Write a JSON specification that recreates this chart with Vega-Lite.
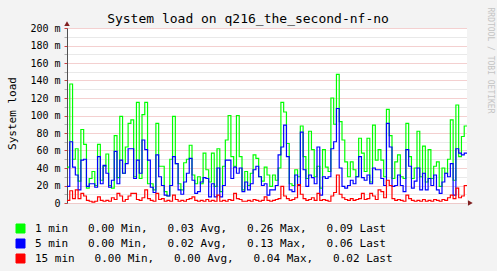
{
  "$schema": "https://vega.github.io/schema/vega-lite/v6.json",
  "width": 400,
  "height": 175,
  "autosize": {"type": "none"},
  "padding": {"left": 67, "top": 28, "right": 30, "bottom": 68},
  "background": "#f3f3f3",
  "view": {"fill": "#ffffff", "stroke": null},
  "config": {"font": "DejaVu Sans Mono"},
  "title": {"text": "System load on q216_the_second-nf-no", "font": "DejaVu Sans Mono", "fontSize": 13, "fontWeight": "normal", "color": "#000000", "anchor": "middle", "dx": -19, "offset": -19},
  "layer": [
    {
      "data": {"values": [
        {"t":690,"1 min":0.041,"5 min":0.019,"15 min":0.003},
        {"t":700,"1 min":0.136,"5 min":0.070,"15 min":0.014},
        {"t":710,"1 min":0.050,"5 min":0.041,"15 min":0.005},
        {"t":720,"1 min":0.062,"5 min":0.032,"15 min":0.015},
        {"t":730,"1 min":0.025,"5 min":0.015,"15 min":0.005},
        {"t":740,"1 min":0.084,"5 min":0.049,"15 min":0.011},
        {"t":750,"1 min":0.067,"5 min":0.050,"15 min":0.008},
        {"t":760,"1 min":0.017,"5 min":0.019,"15 min":0.003},
        {"t":770,"1 min":0.028,"5 min":0.022,"15 min":0.002},
        {"t":780,"1 min":0.036,"5 min":0.022,"15 min":0.001},
        {"t":790,"1 min":0.020,"5 min":0.018,"15 min":0.002},
        {"t":800,"1 min":0.067,"5 min":0.053,"15 min":0.007},
        {"t":810,"1 min":0.026,"5 min":0.022,"15 min":0.003},
        {"t":820,"1 min":0.042,"5 min":0.043,"15 min":0.002},
        {"t":830,"1 min":0.056,"5 min":0.034,"15 min":0.003},
        {"t":840,"1 min":0.020,"5 min":0.018,"15 min":0.002},
        {"t":850,"1 min":0.017,"5 min":0.026,"15 min":0.006},
        {"t":860,"1 min":0.077,"5 min":0.059,"15 min":0.004},
        {"t":870,"1 min":0.029,"5 min":0.022,"15 min":0.011},
        {"t":880,"1 min":0.099,"5 min":0.049,"15 min":0.008},
        {"t":890,"1 min":0.034,"5 min":0.034,"15 min":0.002},
        {"t":900,"1 min":0.064,"5 min":0.045,"15 min":0.004},
        {"t":910,"1 min":0.091,"5 min":0.062,"15 min":0.008},
        {"t":920,"1 min":0.095,"5 min":0.062,"15 min":0.011},
        {"t":930,"1 min":0.030,"5 min":0.028,"15 min":0.011},
        {"t":940,"1 min":0.115,"5 min":0.049,"15 min":0.004},
        {"t":950,"1 min":0.028,"5 min":0.034,"15 min":0.003},
        {"t":960,"1 min":0.101,"5 min":0.072,"15 min":0.006},
        {"t":970,"1 min":0.115,"5 min":0.061,"15 min":0.015},
        {"t":980,"1 min":0.022,"5 min":0.049,"15 min":0.005},
        {"t":990,"1 min":0.022,"5 min":0.018,"15 min":0.003},
        {"t":1000,"1 min":0.015,"5 min":0.012,"15 min":0.002},
        {"t":1010,"1 min":0.091,"5 min":0.055,"15 min":0.011},
        {"t":1020,"1 min":0.042,"5 min":0.030,"15 min":0.004},
        {"t":1030,"1 min":0.042,"5 min":0.020,"15 min":0.005},
        {"t":1040,"1 min":0.013,"5 min":0.009,"15 min":0.002},
        {"t":1050,"1 min":0.008,"5 min":0.008,"15 min":0.003},
        {"t":1060,"1 min":0.050,"5 min":0.020,"15 min":0.002},
        {"t":1070,"1 min":0.099,"5 min":0.053,"15 min":0.009},
        {"t":1080,"1 min":0.045,"5 min":0.045,"15 min":0.004},
        {"t":1090,"1 min":0.022,"5 min":0.015,"15 min":0.002},
        {"t":1100,"1 min":0.015,"5 min":0.010,"15 min":0.003},
        {"t":1110,"1 min":0.046,"5 min":0.024,"15 min":0.002},
        {"t":1120,"1 min":0.050,"5 min":0.034,"15 min":0.004},
        {"t":1130,"1 min":0.066,"5 min":0.051,"15 min":0.005},
        {"t":1140,"1 min":0.032,"5 min":0.026,"15 min":0.007},
        {"t":1150,"1 min":0.022,"5 min":0.011,"15 min":0.003},
        {"t":1160,"1 min":0.030,"5 min":0.013,"15 min":0.002},
        {"t":1170,"1 min":0.022,"5 min":0.024,"15 min":0.003},
        {"t":1180,"1 min":0.057,"5 min":0.029,"15 min":0.002},
        {"t":1190,"1 min":0.038,"5 min":0.028,"15 min":0.004},
        {"t":1200,"1 min":0.024,"5 min":0.007,"15 min":0.002},
        {"t":1210,"1 min":0.057,"5 min":0.022,"15 min":0.003},
        {"t":1220,"1 min":0.019,"5 min":0.007,"15 min":0.002},
        {"t":1230,"1 min":0.062,"5 min":0.040,"15 min":0.009},
        {"t":1240,"1 min":0.013,"5 min":0.007,"15 min":0.002},
        {"t":1250,"1 min":0.042,"5 min":0.020,"15 min":0.003},
        {"t":1260,"1 min":0.072,"5 min":0.049,"15 min":0.002},
        {"t":1270,"1 min":0.100,"5 min":0.049,"15 min":0.004},
        {"t":1280,"1 min":0.053,"5 min":0.028,"15 min":0.003},
        {"t":1290,"1 min":0.042,"5 min":0.041,"15 min":0.011},
        {"t":1300,"1 min":0.100,"5 min":0.034,"15 min":0.005},
        {"t":1310,"1 min":0.053,"5 min":0.040,"15 min":0.004},
        {"t":1320,"1 min":0.015,"5 min":0.013,"15 min":0.002},
        {"t":1330,"1 min":0.036,"5 min":0.024,"15 min":0.002},
        {"t":1340,"1 min":0.020,"5 min":0.015,"15 min":0.003},
        {"t":1350,"1 min":0.034,"5 min":0.022,"15 min":0.002},
        {"t":1360,"1 min":0.055,"5 min":0.038,"15 min":0.004},
        {"t":1370,"1 min":0.051,"5 min":0.042,"15 min":0.003},
        {"t":1380,"1 min":0.030,"5 min":0.030,"15 min":0.002},
        {"t":1390,"1 min":0.025,"5 min":0.020,"15 min":0.003},
        {"t":1400,"1 min":0.041,"5 min":0.022,"15 min":0.007},
        {"t":1410,"1 min":0.032,"5 min":0.009,"15 min":0.003},
        {"t":1420,"1 min":0.019,"5 min":0.015,"15 min":0.002},
        {"t":1430,"1 min":0.032,"5 min":0.015,"15 min":0.003},
        {"t":1440,"1 min":0.026,"5 min":0.020,"15 min":0.004},
        {"t":1450,"1 min":0.040,"5 min":0.055,"15 min":0.005},
        {"t":1460,"1 min":0.115,"5 min":0.064,"15 min":0.019},
        {"t":1470,"1 min":0.104,"5 min":0.089,"15 min":0.008},
        {"t":1480,"1 min":0.068,"5 min":0.053,"15 min":0.005},
        {"t":1490,"1 min":0.022,"5 min":0.015,"15 min":0.003},
        {"t":1500,"1 min":0.020,"5 min":0.013,"15 min":0.004},
        {"t":1510,"1 min":0.038,"5 min":0.032,"15 min":0.006},
        {"t":1520,"1 min":0.030,"5 min":0.020,"15 min":0.021},
        {"t":1530,"1 min":0.088,"5 min":0.081,"15 min":0.010},
        {"t":1540,"1 min":0.053,"5 min":0.038,"15 min":0.005},
        {"t":1550,"1 min":0.028,"5 min":0.019,"15 min":0.003},
        {"t":1560,"1 min":0.082,"5 min":0.032,"15 min":0.004},
        {"t":1570,"1 min":0.061,"5 min":0.029,"15 min":0.006},
        {"t":1580,"1 min":0.030,"5 min":0.022,"15 min":0.003},
        {"t":1590,"1 min":0.042,"5 min":0.064,"15 min":0.011},
        {"t":1600,"1 min":0.017,"5 min":0.009,"15 min":0.003},
        {"t":1610,"1 min":0.061,"5 min":0.030,"15 min":0.004},
        {"t":1620,"1 min":0.041,"5 min":0.028,"15 min":0.003},
        {"t":1630,"1 min":0.036,"5 min":0.030,"15 min":0.002},
        {"t":1640,"1 min":0.120,"5 min":0.062,"15 min":0.008},
        {"t":1650,"1 min":0.090,"5 min":0.070,"15 min":0.012},
        {"t":1660,"1 min":0.147,"5 min":0.108,"15 min":0.032},
        {"t":1670,"1 min":0.093,"5 min":0.040,"15 min":0.010},
        {"t":1680,"1 min":0.072,"5 min":0.019,"15 min":0.006},
        {"t":1690,"1 min":0.047,"5 min":0.017,"15 min":0.004},
        {"t":1700,"1 min":0.030,"5 min":0.020,"15 min":0.003},
        {"t":1710,"1 min":0.047,"5 min":0.026,"15 min":0.005},
        {"t":1720,"1 min":0.038,"5 min":0.022,"15 min":0.003},
        {"t":1730,"1 min":0.030,"5 min":0.030,"15 min":0.004},
        {"t":1740,"1 min":0.074,"5 min":0.053,"15 min":0.005},
        {"t":1750,"1 min":0.057,"5 min":0.029,"15 min":0.011},
        {"t":1760,"1 min":0.036,"5 min":0.026,"15 min":0.004},
        {"t":1770,"1 min":0.074,"5 min":0.032,"15 min":0.005},
        {"t":1780,"1 min":0.024,"5 min":0.022,"15 min":0.011},
        {"t":1790,"1 min":0.089,"5 min":0.040,"15 min":0.008},
        {"t":1800,"1 min":0.049,"5 min":0.038,"15 min":0.004},
        {"t":1810,"1 min":0.061,"5 min":0.038,"15 min":0.015},
        {"t":1820,"1 min":0.049,"5 min":0.028,"15 min":0.013},
        {"t":1830,"1 min":0.030,"5 min":0.020,"15 min":0.006},
        {"t":1840,"1 min":0.107,"5 min":0.091,"15 min":0.026},
        {"t":1850,"1 min":0.077,"5 min":0.064,"15 min":0.020},
        {"t":1860,"1 min":0.028,"5 min":0.019,"15 min":0.005},
        {"t":1870,"1 min":0.047,"5 min":0.020,"15 min":0.003},
        {"t":1880,"1 min":0.055,"5 min":0.032,"15 min":0.004},
        {"t":1890,"1 min":0.030,"5 min":0.020,"15 min":0.003},
        {"t":1900,"1 min":0.028,"5 min":0.013,"15 min":0.002},
        {"t":1910,"1 min":0.091,"5 min":0.061,"15 min":0.009},
        {"t":1920,"1 min":0.053,"5 min":0.042,"15 min":0.005},
        {"t":1930,"1 min":0.028,"5 min":0.017,"15 min":0.003},
        {"t":1940,"1 min":0.040,"5 min":0.025,"15 min":0.002},
        {"t":1950,"1 min":0.082,"5 min":0.040,"15 min":0.003},
        {"t":1960,"1 min":0.030,"5 min":0.015,"15 min":0.002},
        {"t":1970,"1 min":0.065,"5 min":0.034,"15 min":0.004},
        {"t":1980,"1 min":0.024,"5 min":0.015,"15 min":0.002},
        {"t":1990,"1 min":0.061,"5 min":0.028,"15 min":0.003},
        {"t":2000,"1 min":0.028,"5 min":0.020,"15 min":0.002},
        {"t":2010,"1 min":0.042,"5 min":0.032,"15 min":0.004},
        {"t":2020,"1 min":0.047,"5 min":0.015,"15 min":0.003},
        {"t":2030,"1 min":0.019,"5 min":0.011,"15 min":0.002},
        {"t":2040,"1 min":0.040,"5 min":0.024,"15 min":0.004},
        {"t":2050,"1 min":0.034,"5 min":0.034,"15 min":0.003},
        {"t":2060,"1 min":0.050,"5 min":0.030,"15 min":0.006},
        {"t":2070,"1 min":0.095,"5 min":0.045,"15 min":0.009},
        {"t":2080,"1 min":0.026,"5 min":0.009,"15 min":0.005},
        {"t":2090,"1 min":0.112,"5 min":0.062,"15 min":0.017},
        {"t":2100,"1 min":0.053,"5 min":0.057,"15 min":0.006},
        {"t":2110,"1 min":0.076,"5 min":0.055,"15 min":0.008},
        {"t":2120,"1 min":0.088,"5 min":0.057,"15 min":0.020},
        {"t":2130,"1 min":0.088,"5 min":0.057,"15 min":0.020}
      ]},
      "transform": [{"fold": ["1 min", "5 min", "15 min"], "as": ["series", "load"]}],
      "mark": {"type": "line", "interpolate": "step-after", "strokeWidth": 1.2, "clip": true},
      "encoding": {
        "x": {
          "field": "t", "type": "quantitative",
          "scale": {"domain": [690, 2130], "nice": false, "zero": false},
          "axis": {
            "title": null,
            "values": [720,780,840,900,960,1020,1080,1140,1200,1260,1320,1380,1440,1500,1560,1620,1680,1740,1800,1860,1920,1980,2040,2100],
            "grid": true, "gridDash": [1, 1], "gridWidth": 1, "gridOpacity": 1,
            "gridColor": {"condition": {"test": "datum.value % 180 === 0", "value": "#e8a0a0"}, "value": "#d2d2d2"},
            "ticks": true, "tickSize": 2,
            "tickColor": {"condition": {"test": "datum.value % 180 === 0", "value": "#d04040"}, "value": "#b0b0b0"},
            "domainColor": "#505050",
            "labelExpr": "datum.value === 720 ? 'Sat 12:00' : datum.value === 1080 ? 'Sat 18:00' : datum.value === 1440 ? 'Sun 00:00' : datum.value === 1800 ? 'Sun 06:00' : ''",
            "labelFont": "DejaVu Sans Mono", "labelFontSize": 10, "labelColor": "#000000",
            "labelPadding": 4, "labelOverlap": false, "labelFlush": false, "labelBound": false
          }
        },
        "y": {
          "field": "load", "type": "quantitative",
          "scale": {"domain": [0, 0.2], "nice": false},
          "axis": {
            "values": [0,0.01,0.02,0.03,0.04,0.05,0.06,0.07,0.08,0.09,0.1,0.11,0.12,0.13,0.14,0.15,0.16,0.17,0.18,0.19,0.2],
            "grid": true, "gridDash": [1, 1], "gridWidth": 1, "gridOpacity": 1,
            "gridColor": {"condition": {"test": "round(datum.value * 100) % 2 === 0", "value": "#e8a0a0"}, "value": "#d2d2d2"},
            "ticks": true, "tickSize": 3,
            "tickColor": {"condition": {"test": "round(datum.value * 100) % 2 === 0", "value": "#d04040"}, "value": "#b0b0b0"},
            "domainColor": "#505050",
            "labelExpr": "round(datum.value * 1000) === 0 ? '0\u00a0\u00a0' : (round(datum.value * 100) % 2 === 0 ? round(datum.value * 1000) + '\u00a0m' : '')",
            "labelFont": "DejaVu Sans Mono", "labelFontSize": 10, "labelColor": "#000000",
            "labelPadding": 4, "labelOverlap": false, "labelBound": false, "labelFlush": false,
            "title": "System load",
            "titleFont": "DejaVu Sans Mono", "titleFontSize": 11, "titleFontWeight": "normal", "titleColor": "#000000",
            "titleX": -55, "titleY": 85, "titleAngle": 270, "titleAlign": "center", "titleBaseline": "middle"
          }
        },
        "color": {
          "field": "series", "type": "nominal",
          "scale": {"domain": ["1 min", "5 min", "15 min"], "range": ["#00ff00", "#0000ff", "#ff0000"]},
          "legend": {
            "orient": "none", "legendX": -52, "legendY": 195, "title": null, "direction": "vertical",
            "symbolType": "square", "symbolSize": 81, "symbolStrokeWidth": 1,
            "labelFont": "DejaVu Sans Mono", "labelFontSize": 11, "labelColor": "#000000",
            "labelOffset": 9, "labelLimit": 600, "rowPadding": 2,
            "labelExpr": "datum.label === '1 min' ? '\u00a01\u00a0min\u00a0\u00a0\u00a00.00\u00a0Min,\u00a0\u00a0\u00a00.03\u00a0Avg,\u00a0\u00a0\u00a00.26\u00a0Max,\u00a0\u00a0\u00a00.09\u00a0Last' : datum.label === '5 min' ? '\u00a05\u00a0min\u00a0\u00a0\u00a00.00\u00a0Min,\u00a0\u00a0\u00a00.02\u00a0Avg,\u00a0\u00a0\u00a00.13\u00a0Max,\u00a0\u00a0\u00a00.06\u00a0Last' : '15\u00a0min\u00a0\u00a0\u00a00.00\u00a0Min,\u00a0\u00a0\u00a00.00\u00a0Avg,\u00a0\u00a0\u00a00.04\u00a0Max,\u00a0\u00a0\u00a00.02\u00a0Last'",
            "encode": {"symbols": {"update": {"fill": {"scale": "color", "field": "value"}, "stroke": {"value": "#000000"}, "strokeWidth": {"value": 1}, "opacity": {"value": 1}, "fillOpacity": {"value": 1}}}}
          }
        }
      }
    },
    {
      "data": {"values": [{"t": 2142, "load": 0}]},
      "mark": {"type": "point", "shape": "triangle-right", "filled": true, "size": 30, "color": "#802020", "opacity": 1, "clip": false},
      "encoding": {
        "x": {"field": "t", "type": "quantitative", "axis": null},
        "y": {"field": "load", "type": "quantitative", "axis": {
          "orient": "right", "title": "RRDTOOL / TOBI OETIKER", "labels": false, "ticks": false, "domain": false, "grid": false,
          "titleFont": "DejaVu Sans Mono", "titleFontSize": 8, "titleFontWeight": "normal", "titleColor": "#c4c4c4",
          "titleAngle": 90, "titleX": 22, "titleY": 32, "titleAlign": "center", "titleBaseline": "middle"
        }}
      }
    },
    {
      "data": {"values": [{"t": 690, "load": 0.205}]},
      "mark": {"type": "point", "shape": "triangle-up", "filled": true, "size": 30, "color": "#802020", "opacity": 1, "clip": false},
      "encoding": {
        "x": {"field": "t", "type": "quantitative", "axis": null},
        "y": {"field": "load", "type": "quantitative", "axis": null}
      }
    }
  ],
  "resolve": {"axis": {"y": "independent"}}
}
